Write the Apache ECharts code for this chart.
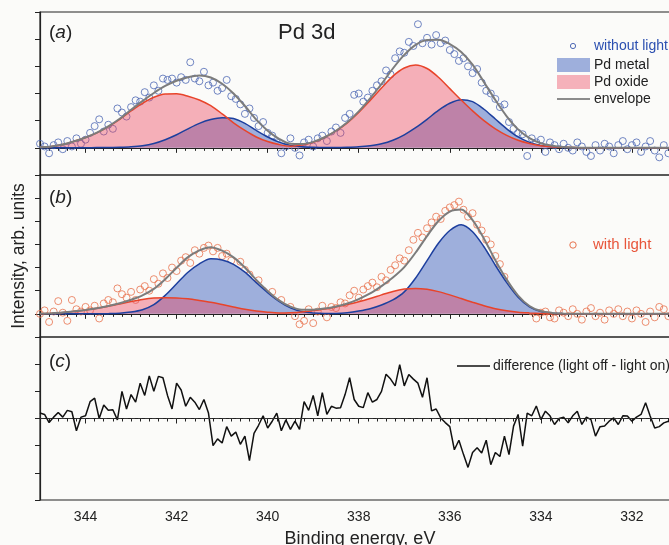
<!DOCTYPE html>
<html>
<head>
<meta charset="utf-8">
<script src="https://cdn.jsdelivr.net/npm/echarts/dist/echarts.min.js"></script>
<style>
html, body { margin: 0; padding: 0; background: #fbfbf9; width: 669px; height: 545px; overflow: hidden; }
/* the original figure is cropped on the right, so the chart is drawn wider than the window */
#main { width: 740px; height: 545px; }
</style>
</head>
<body>
<div id="main"></div>
<script>
// fitted components, one value every 0.25 eV from 345 eV down to 331 eV
const fitStart = 345, fitStep = 0.25;

const oxideA = [
  0.02, 0.05, 0.12, 0.24, 0.38, 0.55, 0.78, 1.05, 1.36, 1.64,
  1.86, 1.98, 1.99, 1.90, 1.76, 1.55, 1.25, 0.92, 0.64, 0.40,
  0.23, 0.12, 0.06, 0.10, 0.20, 0.38, 0.62, 0.92, 1.30, 1.74,
  2.20, 2.64, 2.94, 3.05, 2.92, 2.60, 2.18, 1.76, 1.36, 1.00,
  0.70, 0.46, 0.28, 0.16, 0.08, 0.04, 0.02, 0.01, 0, 0,
  0, 0, 0, 0, 0, 0, 0
];
const metalA = [
  0, 0, 0, 0, 0, 0.01, 0.01, 0.02, 0.04, 0.08,
  0.16, 0.30, 0.48, 0.70, 0.90, 1.04, 1.11, 1.08, 0.90, 0.64,
  0.40, 0.21, 0.09, 0.04, 0.02, 0.01, 0.01, 0.02, 0.04, 0.08,
  0.15, 0.28, 0.48, 0.74, 1.05, 1.38, 1.64, 1.77, 1.70, 1.42,
  1.06, 0.70, 0.40, 0.20, 0.09, 0.04, 0.01, 0, 0, 0,
  0, 0, 0, 0, 0, 0, 0
];
const envelopeA = [
  0.02, 0.05, 0.12, 0.24, 0.38, 0.56, 0.79, 1.07, 1.40, 1.72,
  2.02, 2.28, 2.47, 2.60, 2.66, 2.59, 2.36, 2.00, 1.54, 1.04,
  0.63, 0.33, 0.15, 0.14, 0.22, 0.39, 0.63, 0.94, 1.34, 1.82,
  2.35, 2.92, 3.42, 3.79, 3.97, 3.98, 3.82, 3.53, 3.06, 2.42,
  1.76, 1.16, 0.68, 0.36, 0.17, 0.08, 0.03, 0.01, 0, 0,
  0, 0, 0, 0, 0, 0, 0
];

const oxideB = [
  0.01, 0.03, 0.06, 0.11, 0.17, 0.24, 0.33, 0.43, 0.53, 0.62,
  0.68, 0.70, 0.69, 0.65, 0.58, 0.50, 0.40, 0.30, 0.20, 0.12,
  0.07, 0.04, 0.05, 0.08, 0.14, 0.21, 0.30, 0.40, 0.52, 0.66,
  0.82, 0.97, 1.07, 1.10, 1.06, 0.96, 0.82, 0.66, 0.50, 0.35,
  0.22, 0.13, 0.07, 0.04, 0.02, 0.01, 0, 0, 0, 0,
  0, 0, 0, 0, 0, 0, 0
];
const metalB = [
  0, 0, 0, 0, 0, 0, 0.01, 0.03, 0.08, 0.18,
  0.40, 0.80, 1.30, 1.80, 2.16, 2.38, 2.33, 2.14, 1.80, 1.35,
  0.92, 0.54, 0.26, 0.10, 0.04, 0.02, 0.02, 0.05, 0.12, 0.22,
  0.38, 0.60, 0.95, 1.55, 2.30, 3.05, 3.60, 3.85, 3.55, 2.90,
  2.10, 1.35, 0.72, 0.30, 0.10, 0.03, 0.01, 0, 0, 0,
  0, 0, 0, 0, 0, 0, 0
];
const envelopeB = [
  0.01, 0.03, 0.06, 0.11, 0.17, 0.24, 0.34, 0.46, 0.61, 0.80,
  1.08, 1.50, 1.99, 2.45, 2.74, 2.88, 2.73, 2.44, 2.00, 1.47,
  0.99, 0.58, 0.31, 0.18, 0.18, 0.23, 0.32, 0.45, 0.64, 0.88,
  1.20, 1.57, 2.02, 2.65, 3.36, 4.01, 4.42, 4.51, 4.05, 3.25,
  2.32, 1.48, 0.79, 0.34, 0.12, 0.04, 0.01, 0, 0, 0,
  0, 0, 0, 0, 0, 0, 0
];

// measured points, one every 0.1 eV from 345 eV down to 331.1 eV
const pointStart = 345, pointStep = 0.1;

const withoutLight = [
  0.15, 0.05, -0.2, 0.1, 0.2, -0.05, 0.25, 0.05, 0.35, 0.15,
  0.3, 0.55, 0.8, 1.05, 0.6, 0.85, 0.7, 1.45, 1.3, 1.15,
  1.5, 1.75, 1.7, 2.05, 1.85, 2.3, 2.1, 2.55, 2.5, 2.55,
  2.4, 2.6, 2.5, 3.15, 2.55, 2.45, 2.8, 2.3, 2.4, 2.1,
  2.2, 2.5, 1.9, 1.8, 1.6, 1.25, 1.45, 1.1, 0.8, 0.95,
  0.55, 0.45, 0.2, -0.2, 0.05, 0.35, 0.0, -0.28, 0.2, 0.3,
  0.05, 0.35, 0.45, 0.25, 0.6, 0.75, 0.55, 1.1, 1.25, 1.95,
  2.0, 1.7, 1.85, 2.1, 2.3, 2.45, 2.85, 2.7, 3.3, 3.55,
  3.5, 3.9, 3.75, 4.55, 3.85, 4.05, 3.8, 4.15, 3.85, 3.95,
  3.6, 3.45, 3.2, 3.3, 3.0, 2.75, 2.9, 2.4, 2.1, 2.0,
  1.8, 1.5, 1.6, 0.95, 0.7, 0.55, 0.5, -0.3, 0.35, 0.2,
  0.3, -0.15, 0.2, 0.1, -0.05, 0.15, 0.0, -0.1, 0.2, 0.05,
  -0.15, -0.3, 0.1, -0.1, 0.15, 0.05, -0.2, 0.1, 0.25, -0.05,
  0.1, 0.2, -0.15, 0.05, 0.25, -0.1, -0.35, 0.1, -0.2, 0.15
];
const withLight = [
  0.0, 0.15, -0.35, 0.1, 0.55, 0.05, -0.3, 0.6, 0.2, 0.1,
  0.3, 0.15, 0.35, -0.2, 0.45, 0.6, 0.5, 1.1, 0.85, 0.7,
  0.95, 0.6, 1.05, 1.2, 1.0, 1.5, 1.3, 1.75, 1.55, 2.0,
  1.85, 2.3, 2.45, 2.2, 2.75, 2.6, 2.85, 2.95, 2.7, 2.85,
  2.5, 2.6, 2.3, 1.65, 2.25, 1.9, 1.7, 1.3, 1.45, 1.0,
  0.8, 0.95, 0.5, 0.6, 0.2, 0.3, -0.1, -0.45, -0.3, 0.2,
  -0.4, 0.1, 0.35, -0.15, 0.3, 0.25, 0.5, 0.45, 0.8, 1.0,
  0.7, 1.05, 1.2, 1.35, 1.15, 1.6, 1.45, 1.9, 2.1, 2.4,
  2.3, 2.75, 3.2, 3.5, 3.3, 3.7, 3.95, 4.2, 4.1, 4.45,
  4.6, 4.7, 4.85, 4.5, 4.2, 4.35, 3.85, 3.6, 3.2, 3.0,
  2.5, 2.15, 1.6, 0.85, 0.7, 0.5, 0.35, 0.2, 0.1, -0.2,
  0.05, 0.1, -0.15, -0.2, 0.15, 0.05, -0.1, 0.2, 0.0, -0.25,
  0.1, 0.25, -0.1, 0.05, -0.25, 0.15, 0.0, 0.2, -0.1, 0.1,
  -0.2, 0.15, 0.0, -0.35, 0.1, -0.15, 0.3, 0.2, -0.1, 0.05
];
const difference = [
  0.2, 0.15, -0.15, 0.05, 0.22, 0.05, 0.3, 0.25, -0.45, 0.05,
  0.1, 0.62, 0.75, 0.0, 0.5, 0.3, 0.32, -0.05, 1.0, 0.35,
  0.88, 0.6, 1.3, 0.85, 1.57, 1.0, 1.55, 1.5, 0.85, 0.35,
  1.3, 1.05, 0.45, 0.78, 0.6, 0.33, 0.7, 0.2, -1.0, -0.75,
  -0.9, -0.3, -0.65, -0.5, -0.95, -0.65, -1.55, -0.55, -0.25, 0.1,
  -0.35, -0.1, 0.2, -0.45, -0.05, -0.4, -0.1, -0.4, 0.62, 0.3,
  0.85, 0.1, 0.95, 0.15, 0.45, 0.38, 0.4, 0.88, 1.5, 0.7,
  0.45, 0.4, 0.95, 0.6, 0.7, 1.0, 1.63, 1.45, 1.2, 1.98,
  1.2, 1.62, 1.45, 1.3, 0.78, 1.5, 0.28, 0.35, 0.02, -0.15,
  -0.3, -1.15, -0.8, -1.32, -1.8, -1.25, -1.08, -1.27, -0.8, -1.7,
  -1.25, -1.4, -0.65, -1.33, -0.28, 0.15, -1.02, 0.2, 0.1, 0.46,
  -0.04, 0.27, 0.1, -0.22, 0.0, 0.05, -0.16, 0.1, 0.27, -0.22,
  0.05, -0.04, -0.65, -0.3, -0.28, -0.1, 0.02, -0.22, 0.1, 0.09,
  -0.1, 0.05, 0.15, 0.58, 0.09, -0.35, -0.3, -0.16, -0.1, -0.2
];

// y ranges of the three panels (arb. units, one tick per unit)
const yMin = [-1, -1, -3];
const yMax = [5, 6, 3];

const FONT = 'Liberation Sans, Arial, sans-serif';
const INK = '#222';

function pairs(start, step, ys) {
  return ys.map((y, i) => [Number((start - i * step).toFixed(2)), y]);
}

function areaSeries(idx, ys, fill) {
  return {
    type: 'line', xAxisIndex: idx, yAxisIndex: idx,
    data: pairs(fitStart, fitStep, ys),
    smooth: 0.3, symbol: 'none', silent: true,
    lineStyle: { width: 0 },
    areaStyle: { color: fill, opacity: 1 }
  };
}
function curveSeries(idx, ys, color, width) {
  return {
    type: 'line', xAxisIndex: idx, yAxisIndex: idx,
    data: pairs(fitStart, fitStep, ys),
    smooth: 0.3, symbol: 'none', silent: true,
    lineStyle: { color: color, width: width }
  };
}
function pointSeries(idx, ys, color) {
  return {
    type: 'scatter', xAxisIndex: idx, yAxisIndex: idx,
    data: pairs(pointStart, pointStep, ys),
    symbol: 'circle', symbolSize: 7, silent: true,
    itemStyle: { color: 'rgba(0,0,0,0)', borderColor: color, borderWidth: 1 }
  };
}

const grids = [
  { left: 40, top: 12, width: 683, height: 163 },
  { left: 40, top: 175, width: 683, height: 162 },
  { left: 40, top: 337, width: 683, height: 163 }
].map(g => Object.assign(g, { show: true, borderColor: INK, borderWidth: 1.2 }));

const xAxes = [0, 1, 2].map(i => ({
  gridIndex: i, type: 'value', min: 330, max: 345, interval: 2, inverse: true,
  axisLine: { show: true, lineStyle: { color: INK, width: 1.2 } },
  axisTick: { show: true, length: 5, lineStyle: { color: INK } },
  minorTick: { show: true, splitNumber: 10, length: 3, lineStyle: { color: INK } },
  axisLabel: { show: i === 2, showMaxLabel: false, showMinLabel: false, color: INK, fontSize: 14, fontFamily: FONT, margin: 10 },
  splitLine: { show: false }
}));

const yAxes = [0, 1, 2].map(i => ({
  gridIndex: i, type: 'value', min: yMin[i], max: yMax[i], interval: 1,
  axisLine: { show: true, lineStyle: { color: INK, width: 1.2 } },
  axisTick: { show: true, length: 5, lineStyle: { color: INK } },
  axisLabel: { show: false },
  splitLine: { show: false }
}));

const metalFill = '#9eafdc';
const oxideFill = 'rgba(235,70,95,0.42)';
const metalLine = '#1d3f9e';
const oxideLine = '#e8442a';
const envLine = '#7c7c7c';

const series = [
  areaSeries(0, metalA, metalFill),
  areaSeries(0, oxideA, oxideFill),
  pointSeries(0, withoutLight, '#4d68b4'),
  curveSeries(0, metalA, metalLine, 1.5),
  curveSeries(0, oxideA, oxideLine, 1.5),
  curveSeries(0, envelopeA, envLine, 2),

  areaSeries(1, metalB, metalFill),
  areaSeries(1, oxideB, oxideFill),
  pointSeries(1, withLight, '#e8734f'),
  curveSeries(1, metalB, metalLine, 1.5),
  curveSeries(1, oxideB, oxideLine, 1.5),
  curveSeries(1, envelopeB, envLine, 2),

  {
    type: 'line', xAxisIndex: 2, yAxisIndex: 2,
    data: pairs(pointStart, pointStep, difference),
    symbol: 'none', silent: true,
    lineStyle: { color: '#111', width: 1.5 },
    markLine: {
      silent: true, symbol: 'none', label: { show: false },
      lineStyle: { type: [4, 3], color: '#333', width: 1 },
      data: [{ yAxis: 0 }]
    }
  }
];

function label(x, y, text, size, color, extra) {
  return Object.assign({
    type: 'text', x: x, y: y, silent: true,
    style: { text: text, fontSize: size, fontFamily: FONT, fill: color || INK, verticalAlign: 'middle' }
  }, extra || {});
}
function panelTag(y, letter) {
  return {
    type: 'text', x: 49, y: y, silent: true,
    style: {
      text: '{n|(}{i|' + letter + '}{n|)}', verticalAlign: 'middle',
      rich: {
        n: { fontSize: 19, fontFamily: FONT, fill: INK },
        i: { fontSize: 19, fontFamily: FONT, fontStyle: 'italic', fill: INK }
      }
    }
  };
}

const graphics = [
  panelTag(33, 'a'),
  panelTag(198, 'b'),
  panelTag(362, 'c'),
  label(278, 33, 'Pd 3d', 22),

  { type: 'circle', silent: true, shape: { cx: 573, cy: 46, r: 2.6 }, style: { fill: 'none', stroke: '#4d68b4', lineWidth: 1 } },
  label(594, 46, 'without light', 14, '#2b4fb0'),
  { type: 'rect', silent: true, shape: { x: 557, y: 58, width: 33, height: 14 }, style: { fill: metalFill } },
  label(594, 65, 'Pd metal', 14),
  { type: 'rect', silent: true, shape: { x: 557, y: 75, width: 33, height: 14 }, style: { fill: '#f5b1ba' } },
  label(594, 82, 'Pd oxide', 14),
  { type: 'line', silent: true, shape: { x1: 557, y1: 99, x2: 590, y2: 99 }, style: { stroke: '#666', lineWidth: 1.3 } },
  label(594, 99, 'envelope', 14),

  { type: 'circle', silent: true, shape: { cx: 573, cy: 245, r: 3.2 }, style: { fill: 'none', stroke: '#e8734f', lineWidth: 1 } },
  label(593, 245, 'with light', 15, '#e8553a'),

  { type: 'line', silent: true, shape: { x1: 457, y1: 366, x2: 490, y2: 366 }, style: { stroke: '#111', lineWidth: 1.5 } },
  label(493, 366, 'difference (light off - light on)', 14),

  label(19, 256, 'Intensity, arb. units', 17.5, INK, { rotation: Math.PI / 2, style: { text: 'Intensity, arb. units', fontSize: 17.5, fontFamily: FONT, fill: INK, align: 'center', verticalAlign: 'middle' } }),
  label(360, 539, 'Binding energy, eV', 18, INK, { style: { text: 'Binding energy, eV', fontSize: 18, fontFamily: FONT, fill: INK, align: 'center', verticalAlign: 'middle' } })
];

const chart = echarts.init(document.getElementById('main'), null, { renderer: 'canvas' });
chart.setOption({
  backgroundColor: '#fbfbf9',
  animation: false,
  grid: grids,
  xAxis: xAxes,
  yAxis: yAxes,
  series: series,
  graphic: graphics
});
</script>
</body>
</html>
